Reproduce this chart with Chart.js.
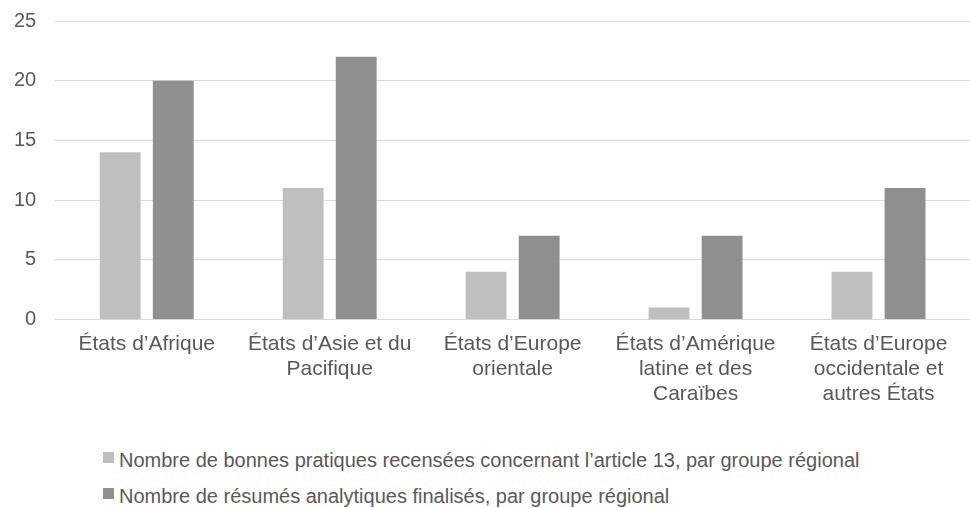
<!DOCTYPE html>
<html lang="fr">
<head>
<meta charset="utf-8">
<script src="https://cdn.jsdelivr.net/npm/chart.js@4/dist/chart.umd.min.js"></script>
<style>
  html, body { margin: 0; padding: 0; background: #fff; overflow: hidden; }
  #wrap { position: relative; width: 970px; height: 508px; overflow: hidden; font-family: "Liberation Sans", Arial, sans-serif; }
  /* the canvas is pulled up/left so the tick padding lands where the axis labels sit */
  #chart-box { position: absolute; left: -19px; top: -10px; width: 989px; height: 421px; }
  #legend { position: absolute; left: 103px; top: 442px; }
  #legend ul { list-style: none; margin: 0; padding: 0; }
  #legend li { display: flex; align-items: center; height: 36px; }
</style>
</head>
<body>
<div id="wrap">
  <div id="chart-box"><canvas id="groups-chart"></canvas></div>
  <div id="legend"><ul></ul></div>
</div>
<script>
// Regional groups (multi-line labels as drawn under the axis)
const categories = [
  ['États d’Afrique'],
  ['États d’Asie et du', 'Pacifique'],
  ['États d’Europe', 'orientale'],
  ['États d’Amérique', 'latine et des', 'Caraïbes'],
  ['États d’Europe', 'occidentale et', 'autres États'],
];
const goodPractices = [14, 11, 4, 1, 4];
const summaries = [20, 22, 7, 7, 11];
const seriesNames = [
  'Nombre de bonnes pratiques recensées concernant l’article 13, par groupe régional',
  'Nombre de résumés analytiques finalisés, par groupe régional',
];
const yTicks = [0, 5, 10, 15, 20, 25];

const textColor = '#595959';
const gridColor = '#D9D9D9';
const fontFamily = '"Liberation Sans", Arial, sans-serif';

const ctx = document.getElementById('groups-chart');
// eslint-disable-next-line no-unused-vars
const chart = new Chart(ctx, {
  type: 'bar',
  data: {
    labels: categories,
    datasets: [
      {
        label: seriesNames[0],
        data: goodPractices,
        backgroundColor: '#BFBFBF',
        barPercentage: 0.77,
        categoryPercentage: 0.58,
      },
      {
        label: seriesNames[1],
        data: summaries,
        backgroundColor: '#8F8F8F',
        barPercentage: 0.77,
        categoryPercentage: 0.58,
      },
    ],
  },
  options: {
    responsive: true,
    maintainAspectRatio: false,
    animation: false,
    layout: {
      padding: { top: 0, right: 0, left: 14, bottom: 0 },
    },
    scales: {
      y: {
        min: 0,
        max: 25,
        afterBuildTicks: (axis) => { axis.ticks = yTicks.map((v) => ({ value: v })); },
        border: { display: false },
        grid: { color: gridColor, lineWidth: 1, drawTicks: false },
        ticks: {
          color: textColor,
          padding: 19,
          font: { family: fontFamily, size: 20 },
        },
      },
      x: {
        border: { display: false },
        grid: { display: false },
        ticks: {
          color: textColor,
          maxRotation: 0,
          autoSkip: false,
          padding: 4,
          font: { family: fontFamily, size: 21, lineHeight: 1.2 },
        },
      },
    },
    plugins: {
      legend: { display: false },
      tooltip: { enabled: false },
      htmlLegend: { containerID: 'legend' },
    },
  },
  plugins: [{
    id: 'htmlLegend',
    afterUpdate(c, args, options) {
      const ul = document.getElementById(options.containerID).querySelector('ul');
      while (ul.firstChild) ul.firstChild.remove();
      const items = c.options.plugins.legend.labels.generateLabels(c);
      items.forEach((item) => {
        const li = document.createElement('li');
        // Color box
        const box = document.createElement('span');
        box.style.display = 'inline-block';
        box.style.width = '11px';
        box.style.height = '11px';
        box.style.marginRight = '5px';
        box.style.marginTop = '-5px';
        box.style.background = item.fillStyle;
        // Label
        const label = document.createElement('span');
        label.style.color = textColor;
        label.style.fontSize = '20px';
        label.style.lineHeight = '36px';
        label.textContent = item.text;
        li.appendChild(box);
        li.appendChild(label);
        ul.appendChild(li);
      });
    },
  }],
});
</script>
</body>
</html>
